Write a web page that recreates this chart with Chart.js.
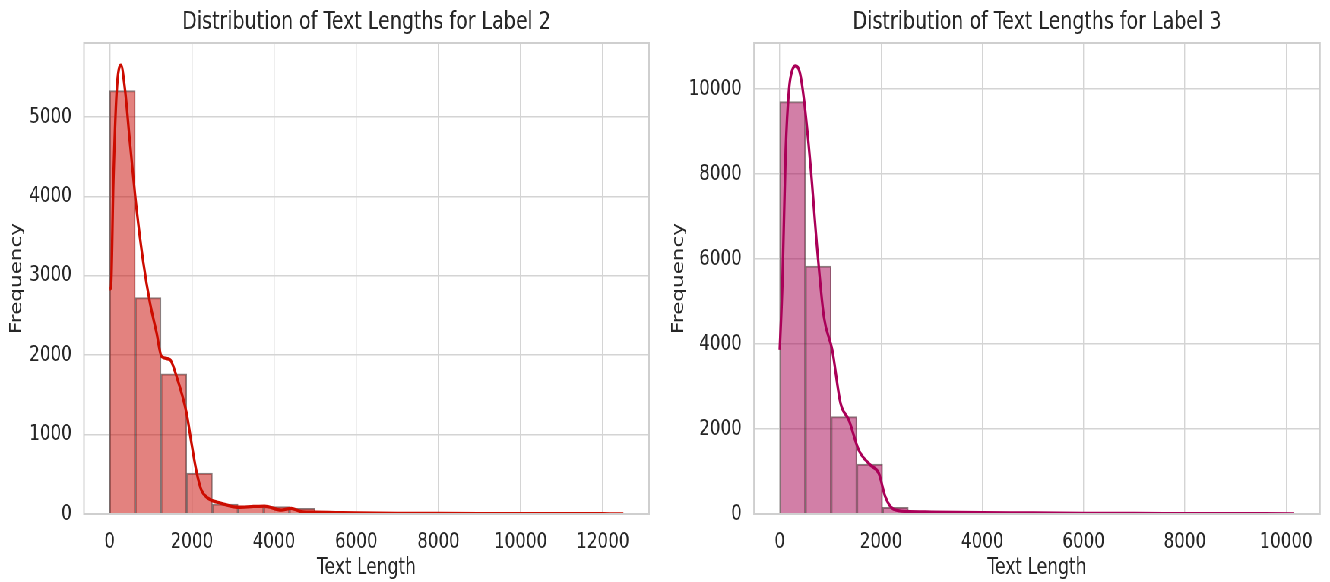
<!DOCTYPE html>
<html>
<head>
<meta charset="utf-8">
<script src="https://cdn.jsdelivr.net/npm/chart.js@4.4.1/dist/chart.umd.min.js"></script>
<style>
html,body{margin:0;padding:0;background:#fff;overflow:hidden;width:1330px;height:582px;}
#wrap{position:absolute;left:0;top:0;width:1750px;height:582px;transform:scaleX(0.76);transform-origin:0 0;}
canvas{position:absolute;top:0;}
</style>
</head>
<body>
<div id="wrap">
<canvas id="c1" width="875" height="582" style="left:0px"></canvas>
<canvas id="c2" width="875" height="582" style="left:875px"></canvas>
</div>
<script>
// ---------- text ----------
const title2 = 'Distribution of Text Lengths for Label 2';
const title3 = 'Distribution of Text Lengths for Label 3';
const xTitle = 'Text Length';
const yTitle = 'Frequency';

// ---------- Label 2 ----------
const binEdges2 = [0,625,1250,1875,2500,3125,3750,4375,5000,5625,6250,6875,7500,8125,8750,9375,10000,10625,11250,11875];
const binWidth2 = 625;
const counts2 = [5330,2725,1765,515,126,101,93,72,25,18,12,8,5,4,3,3,2,2,1,3];
const kdeX2 = [0,32,90,170,275,371,493,655,818,980,1140,1262,1464,1626,1869,1990,2112,2233,2395,2718,3123,3500,3770,4175,4418,4660,5000,5500,6000,7000,8000,9000,10000,11000,12000,12500];
const kdeY2 = [2830,2850,4180,5315,5650,5350,4680,3840,3170,2660,2285,1985,1945,1735,1275,895,535,300,198,135,85,95,100,50,72,30,22,18,14,9,6,5,4,4,3,2];
const xTicks2 = [0,2000,4000,6000,8000,10000,12000];
const yTicks2 = [0,1000,2000,3000,4000,5000];

// ---------- Label 3 ----------
const binEdges3 = [0,508,1016,1524,2032,2540,3048,3556,4064,4572,5080,5588,6096,6604,7112,7620,8128,8636,9144,9652];
const binWidth3 = 508;
const counts3 = [9700,5830,2290,1176,158,70,45,30,25,20,15,12,10,8,6,5,4,3,2,2];
const kdeX3 = [0,53,118,183,250,315,400,480,610,742,872,1037,1200,1365,1562,1790,1955,2087,2250,2500,3000,4000,5000,6000,7000,8000,9000,10160];
const kdeY3 = [3860,5430,8560,9980,10450,10540,10370,9740,8170,6210,4640,3860,2610,2210,1500,1150,960,400,110,60,45,30,25,15,12,8,6,5];
const xTicks3 = [0,2000,4000,6000,8000,10000];
const yTicks3 = [0,2000,4000,6000,8000,10000];

const FONT = "'DejaVu Sans', 'Liberation Sans', sans-serif";
const TEXT = '#262626';
const GRID = '#d4d4d4';

function makeChart(id, cfg) {
  const framePlugin = {
    id: 'frame' + id,
    afterDatasetsDraw(chart) {
      const a = chart.chartArea, ctx = chart.ctx;
      ctx.save();
      ctx.strokeStyle = '#cfcfcf';
      ctx.lineWidth = 2;
      ctx.strokeRect(a.left, a.top, a.right - a.left, a.bottom - a.top);
      ctx.fillStyle = TEXT;
      ctx.font = '25px ' + FONT;
      ctx.textAlign = 'center';
      ctx.textBaseline = 'middle';
      ctx.fillText(cfg.title, (a.left + a.right) / 2, 22.5);
      ctx.restore();
    }
  };
  const bg = {
    id: 'bg' + id,
    beforeDraw(chart) {
      const ctx = chart.ctx;
      ctx.save(); ctx.fillStyle = '#fff';
      ctx.fillRect(0, 0, chart.width, chart.height); ctx.restore();
    }
  };
  return new Chart(document.getElementById(id), {
    type: 'bar',
    data: {
      datasets: [
        {
          type: 'line',
          order: 0,
          data: cfg.kdeX.map((x, i) => ({x: x, y: cfg.kdeY[i]})),
          borderColor: cfg.line,
          borderWidth: 3.3,
          pointRadius: 0,
          fill: false,
          cubicInterpolationMode: 'monotone',
          tension: 0.4
        },
        {
          type: 'bar',
          order: 1,
          data: cfg.counts.map((c, i) => ({x: cfg.edges[i] + cfg.width / 2, y: c})),
          backgroundColor: cfg.fill,
          borderColor: 'rgba(60,40,40,0.6)',
          borderWidth: 1.3,
          borderSkipped: 'bottom',
          barPercentage: 1,
          categoryPercentage: 1,
          grouped: false
        }
      ]
    },
    options: {
      responsive: false,
      animation: false,
      events: [],
      layout: {padding: {left: 0, right: cfg.padRight, top: 43, bottom: 0}},
      plugins: {legend: {display: false}, tooltip: {enabled: false}, title: {display: false}},
      scales: {
        x: {
          type: 'linear',
          min: cfg.xMin, max: cfg.xMax,
          offset: false,
          grid: {color: GRID, lineWidth: 1.4, drawTicks: false, offset: false},
          border: {display: false},
          afterBuildTicks(s) { s.ticks = cfg.xTicks.map(v => ({value: v})); },
          afterFit(s) { s.height = 68; },
          ticks: {color: TEXT, font: {family: FONT, size: 22}, padding: 15, maxRotation: 0, autoSkip: false,
                  callback: v => String(v)},
          title: {display: true, text: xTitle, color: TEXT, font: {family: FONT, size: 22.5}, padding: {top: 0, bottom: 0.5}}
        },
        y: {
          type: 'linear',
          min: 0, max: cfg.yMax,
          grid: {color: GRID, lineWidth: 1.4, drawTicks: false},
          border: {display: false},
          afterBuildTicks(s) { s.ticks = cfg.yTicks.map(v => ({value: v})); },
          afterFit(s) { s.width = cfg.plotLeft; },
          ticks: {color: TEXT, font: {family: FONT, size: 22}, padding: 16, autoSkip: false,
                  callback: v => String(v)},
          title: {display: true, text: yTitle, color: TEXT, font: {family: FONT, size: 21.5}, padding: {top: cfg.yTitlePad, bottom: 0}}
        }
      }
    },
    plugins: [bg, framePlugin]
  });
}

makeChart('c1', {
  title: title2, edges: binEdges2, width: binWidth2, counts: counts2, kdeX: kdeX2, kdeY: kdeY2,
  xTicks: xTicks2, yTicks: yTicks2, xMin: -625, xMax: 13125, yMax: 5930,
  plotLeft: 110.5, padRight: 21, yTitlePad: 9.5,
  fill: 'rgba(200,5,0,0.5)', line: 'rgb(204,12,0)'
});
makeChart('c2', {
  title: title3, edges: binEdges3, width: binWidth3, counts: counts3, kdeX: kdeX3, kdeY: kdeY3,
  xTicks: xTicks3, yTicks: yTicks3, xMin: -508, xMax: 10668, yMax: 11080,
  plotLeft: 117.1, padRight: 13.2, yTitlePad: 5.5,
  fill: 'rgba(165,0,80,0.5)', line: 'rgb(170,0,88)'
});
</script>
</body>
</html>
